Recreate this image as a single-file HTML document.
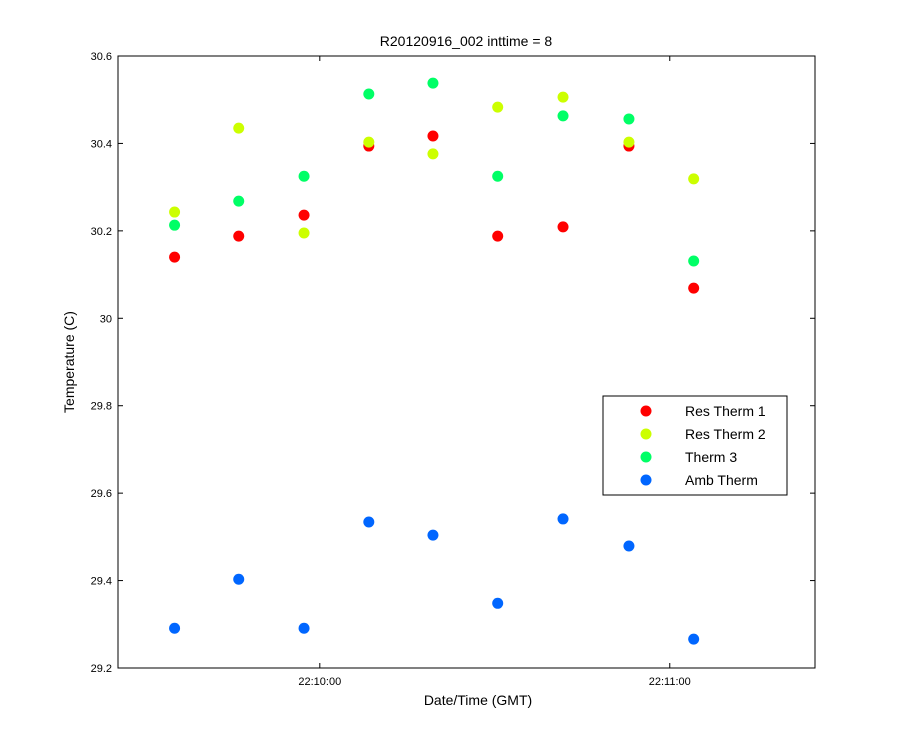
<!DOCTYPE html>
<html><head><meta charset="utf-8"><style>
body{margin:0;background:#fff;}
svg{display:block;font-family:"Liberation Sans",sans-serif;}
</style></head><body>
<svg id="chart" width="900" height="750">
<rect x="0" y="0" width="900" height="750" fill="#fff"/>
<rect x="118" y="56" width="697" height="612" fill="#fff" stroke="#000" stroke-width="1"/>
<text x="466" y="46" text-anchor="middle" font-size="14">R20120916_002 inttime = 8</text>
<text x="478" y="705" text-anchor="middle" font-size="14">Date/Time (GMT)</text>
<text x="74" y="362" text-anchor="middle" font-size="14" transform="rotate(-90 74 362)">Temperature (C)</text>
<g id="axes"></g>
<g id="marks"></g>
<g id="legend"></g>
</svg>
<script>
const times = [35.1, 46.1, 57.3, 68.4, 79.4, 90.5, 101.7, 113.0, 124.1];
const resTherm1 = [30.140, 30.188, 30.236, 30.394, 30.417, 30.188, 30.209, 30.394, 30.069];
const resTherm2 = [30.243, 30.435, 30.195, 30.403, 30.376, 30.483, 30.506, 30.403, 30.319];
const therm3 = [30.213, 30.268, 30.325, 30.513, 30.538, 30.325, 30.463, 30.456, 30.131];
const ambTherm = [29.291, 29.403, 29.291, 29.534, 29.504, 29.348, 29.541, 29.479, 29.266];
const seriesNames = ["Res Therm 1", "Res Therm 2", "Therm 3", "Amb Therm"];
const yTicks = [29.2, 29.4, 29.6, 29.8, 30, 30.2, 30.4, 30.6];
const yTickLabels = ["29.2", "29.4", "29.6", "29.8", "30", "30.2", "30.4", "30.6"];
const xTicks = [60, 120];
const xTickLabels = ["22:10:00", "22:11:00"];

const NS = "http://www.w3.org/2000/svg";
const L = 118, R = 815, T = 56, B = 668;
const xMin = 25.4, xMax = 144.9, yMin = 29.2, yMax = 30.6;
const xs = v => L + (v - xMin) / (xMax - xMin) * (R - L);
const ys = v => B - (v - yMin) / (yMax - yMin) * (B - T);
function mk(tag, attrs, parent) {
  const e = document.createElementNS(NS, tag);
  for (const k in attrs) e.setAttribute(k, attrs[k]);
  parent.appendChild(e);
  return e;
}
const axes = document.getElementById("axes");
yTicks.forEach((v, i) => {
  const y = ys(v);
  mk("line", {x1: L, x2: L + 5, y1: y, y2: y, stroke: "#000"}, axes);
  mk("line", {x1: R, x2: R - 5, y1: y, y2: y, stroke: "#000"}, axes);
  const t = mk("text", {x: L - 6, y: y + 4, "text-anchor": "end", "font-size": 11}, axes);
  t.textContent = yTickLabels[i];
  
  
});
xTicks.forEach((v, i) => {
  const x = xs(v);
  mk("line", {x1: x, x2: x, y1: B, y2: B - 5, stroke: "#000"}, axes);
  mk("line", {x1: x, x2: x, y1: T, y2: T + 5, stroke: "#000"}, axes);
  const t = mk("text", {x: x, y: B + 17, "text-anchor": "middle", "font-size": 11}, axes);
  t.textContent = xTickLabels[i];
  
  
});
const colors = ["#ff0000", "#ccff00", "#00ff66", "#0066ff"];
const allSeries = [resTherm1, resTherm2, therm3, ambTherm];
const marks = document.getElementById("marks");
allSeries.forEach((s, si) => {
  s.forEach((v, i) => {
    const c = mk("circle", {cx: xs(times[i]), cy: ys(v), r: 5.5, fill: colors[si]}, marks);
    
    
  });
});
const lg = document.getElementById("legend");


mk("rect", {x: 603, y: 396, width: 184, height: 99, fill: "#fff", stroke: "#000"}, lg);
seriesNames.forEach((n, i) => {
  const y = 411 + i * 23;
  mk("circle", {cx: 646, cy: y, r: 5.5, fill: colors[i]}, lg);
  const t = mk("text", {x: 685, y: y + 5, "font-size": 14}, lg);
  t.textContent = n;
  
  
});
</script>
</body></html>
